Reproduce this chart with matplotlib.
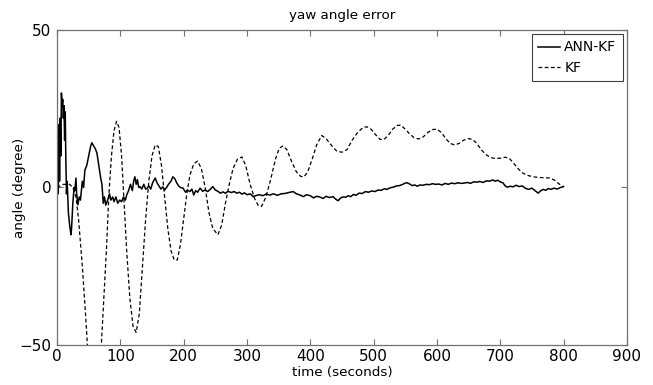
import matplotlib
matplotlib.use("Agg")
import matplotlib.pyplot as plt

# 数据
t_ann = [0, 1, 2, 3, 4, 5, 6, 7, 8, 9, 10, 11, 12, 13, 14, 15, 16, 18, 20, 22, 23, 25,
         27, 28, 30, 31, 33, 35, 37, 40, 42, 44, 47, 50, 53, 55, 57, 60, 63, 66, 69, 71,
         73, 75, 77, 80, 83, 85, 88, 90, 93, 96, 99, 102, 105, 108, 110, 113, 116, 119,
         121, 123, 125, 127, 129, 131, 134, 137, 140, 142, 145, 148, 151, 155, 158, 161,
         164, 167, 170, 173, 176, 180, 183, 186, 189, 192, 195, 199, 203, 206, 210, 213,
         216, 219, 222, 226, 230, 234, 238, 242, 246, 250, 254, 258, 262, 266, 270, 275,
         280, 284, 288, 292, 296, 300, 305, 310, 315, 320, 325, 330, 336, 342, 348, 354,
         360, 366, 373, 378, 384, 389, 394, 400, 405, 410, 415, 420, 425, 430, 436, 440,
         444, 448, 452, 456, 460, 464, 468, 472, 477, 482, 487, 492, 497, 502, 507, 512,
         517, 521, 526, 531, 536, 541, 546, 550, 553, 557, 561, 565, 569, 573, 578, 583,
         588, 593, 598, 603, 608, 613, 618, 623, 628, 633, 638, 643, 648, 653, 658, 663,
         668, 673, 678, 683, 688, 692, 696, 700, 704, 708, 711, 716, 720, 725, 730, 735,
         740, 745, 750, 755, 760, 764, 768, 772, 776, 780, 785, 790, 795, 800]
y_ann = [0, 5, -2, 20, 2, 22, 10, 30, 26, 28, 22, 26, 15, 24, 8, -2, 2, -8, -12, -15, -13, -5,
         0, -1, 3, -2, -5.5, -3, -4, 2, 0, 5.5, 7, 10, 13, 14.2, 13.5, 12.5, 11, 7, 3, 1,
         -5, -3, -5.6, -4, -2, -4, -3, -4.5, -3, -5, -4, -4.5, -3, -4, -2.4, -1, 1, -1,
         2, 3.4, 1, 2.5, 0, 0.3, -0.5, 1, -0.5, -0.3, 0.5, -0.5, 1.5, 3, 1.5, 0.5,
         -0.5, 0.2, -0.8, 0, 1, 2, 3.4, 2.8, 1.5, 0.5, 0, -0.2, -1.5, -0.8, -1.3, -0.5,
         -2.4, -1, -1.5, -0.2, -1.2, -0.8, -1.3, -0.6, 0.3, -0.8, -1.2, -1.8, -1.4, -1.8, -1.2, -1.6,
         -1.3, -1.8, -1.5, -2.1, -1.7, -2.3, -2.0, -2.9, -2.5, -2.3, -2.6, -2.1, -2.4, -2.0, -2.5, -2.0,
         -1.9, -1.6, -1.3, -2.0, -2.4, -2.9, -2.3, -2.6, -3.3, -2.8, -3.0, -3.5, -2.8, -3.2, -2.9, -3.7,
         -4.2, -3.3, -3.0, -3.1, -2.6, -2.9, -2.2, -2.5, -1.8, -1.9, -1.3, -1.5, -1.1, -1.3, -0.8, -0.9,
         -0.4, -0.6, -0.1, 0.1, 0.5, 0.6, 1.0, 1.4, 1.5, 1.1, 0.6, 0.8, 0.4, 0.8, 0.7, 1.0,
         0.9, 1.2, 1.0, 1.1, 0.8, 1.3, 1.0, 1.4, 1.2, 1.5, 1.3, 1.4, 1.6, 1.3, 1.8, 1.7,
         1.9, 1.6, 2.1, 2.0, 2.4, 2.0, 2.3, 1.8, 1.5, 0.5, 0.1, 0.4, 0.2, 0.7, 0.3, 0.5,
         -0.3, -0.6, -0.2, -1.0, -1.8, -1.0, -0.6, -0.9, -0.3, -0.6, -0.2, -0.5, 0.0, 0.3]

t_kf = [0, 10, 20, 25, 30, 34, 40, 45, 48, 52, 58, 63, 67, 70, 74, 78, 82, 86, 90, 94,
        98, 102, 106, 110, 115, 120, 125, 130, 135, 140, 145, 150, 155, 160, 165, 170,
        175, 180, 185, 190, 195, 200, 205, 210, 216, 222, 228, 234, 240, 246, 254, 260,
        266, 272, 278, 285, 292, 298, 305, 312, 318, 323, 330, 338, 345, 351, 357, 363,
        370, 378, 385, 390, 396, 403, 410, 418, 425, 435, 442, 450, 458, 466, 475, 483,
        489, 496, 503, 510, 516, 523, 530, 537, 543, 550, 557, 564, 571, 578, 586, 593,
        600, 607, 614, 621, 628, 635, 642, 650, 656, 663, 670, 677, 685, 692, 700, 708,
        714, 720, 728, 736, 744, 752, 760, 770, 779, 786, 791, 796, 800]
y_kf = [0, 1, 1, 0, -3, -10, -25, -40, -50, -60, -67, -62, -54, -50, -35, -20, -2, 10, 18, 21,
        19, 10, -5, -20, -35, -44, -46, -40, -25, -10, 2, 10, 13.5, 13, 7, -3,
        -13, -20, -23, -23, -18, -10, -2, 4, 7.5, 8.4, 6, 0, -8, -13, -15, -12,
        -5, 1, 6, 9, 9.7, 7, 1, -3.5, -5.8, -6, -3, 3, 9, 12.5, 13.2, 12,
        8.5, 5, 3.5, 3.4, 5, 9, 13.5, 16.5, 15.5, 13, 11.5, 11.2, 12, 15, 17.5, 19,
        19.3, 18.5, 16.8, 15.3, 15.2, 16.5, 18.5, 19.7, 19.8, 18.5, 17, 15.8, 15.4, 16, 17.5, 18.4,
        18.5, 17.5, 15.5, 14, 13.5, 14, 15, 15.5, 15.3, 14, 12, 10.5, 9.5, 9.2, 9.3, 9.6,
        9.3, 8, 6, 4.5, 3.8, 3.4, 3.2, 3.1, 3, 2.3, 1.4, 0.7, 0.2]

x_ticks = list(range(0, 1000, 100))
y_ticks = [-50, 0, 50]

plt.rcParams['font.family'] = ['DejaVu Sans']
plt.rcParams['font.size'] = 9.7

fig = plt.figure(figsize=(6.53, 3.85), dpi=100)
ax = fig.add_axes([0.0873, 0.1039, 0.8727, 0.8182])

ax.plot(t_ann, y_ann, color='black', linewidth=1.1, label='ANN-KF')
ax.plot(t_kf, y_kf, color='black', linewidth=0.9, linestyle=(0, (3, 2)), label='KF')

ax.set_xlim(0, 900)
ax.set_ylim(-50, 50)
ax.set_xticks(x_ticks)
ax.set_yticks(y_ticks)
ax.tick_params(direction='in', top=True, right=True, length=4, width=0.8,
               color='#707070', labelsize=11)
ax.tick_params(axis='x', pad=3)
ax.tick_params(axis='y', pad=4)
for s in ax.spines.values():
    s.set_color('#707070')
    s.set_linewidth(0.9)

ax.set_title('yaw angle error', fontsize=9.7, pad=8)
ax.set_xlabel('time (seconds)', labelpad=1)
ax.set_ylabel('angle (degree)', labelpad=-5)

leg = ax.legend(loc='upper right', fancybox=False, framealpha=1, edgecolor='#404040',
                handlelength=1.6, handletextpad=0.3, borderpad=0.45, labelspacing=0.45,
                borderaxespad=0.3, fontsize=10)
leg.get_frame().set_linewidth(0.8)

fig.savefig('out.png', dpi=100)
